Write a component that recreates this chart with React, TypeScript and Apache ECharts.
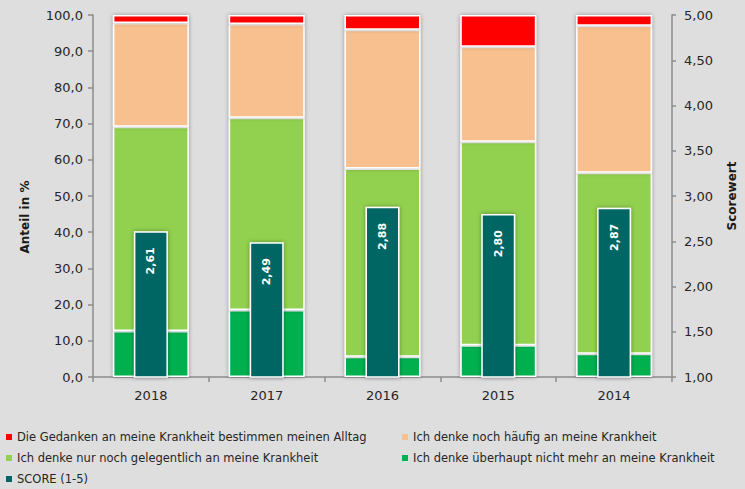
import React, { useEffect, useRef } from "react";
import * as echarts from "echarts";

const categories = ["2018", "2017", "2016", "2015", "2014"];
const alltag = [2.2, 2.5, 4.1, 8.8, 3.0];
const haeufig = [28.7, 25.9, 38.3, 26.2, 40.6];
const gelegentlich = [56.4, 53.1, 52.0, 56.2, 50.0];
const nichtMehr = [12.7, 18.5, 5.6, 8.8, 6.4];
const score = [2.61, 2.49, 2.88, 2.8, 2.87];

const names = {
  alltag: "Die Gedanken an meine Krankheit bestimmen meinen Alltag",
  haeufig: "Ich denke noch häufig an meine Krankheit",
  gelegentlich: "Ich denke nur noch gelegentlich an meine Krankheit",
  nichtMehr: "Ich denke überhaupt nicht mehr an meine Krankheit",
  score: "SCORE (1-5)",
};

const FONT = "'DejaVu Sans', 'Noto Sans', sans-serif";
const TEXT = "#262626";
const GRID = "#8c8c8c";

export default function App() {
  const ref = useRef<HTMLDivElement>(null);
  useEffect(() => {
    if (!ref.current) return;
    const chart = echarts.init(ref.current, null, { renderer: "svg" });
    const barStyle = (color: string) => ({
      color,
      borderColor: "#ffffff",
      borderWidth: 1.5,
      shadowBlur: 4,
      shadowColor: "rgba(0,0,0,0.35)",
    });
    const stacked = (name: string, data: number[], color: string) => ({
      name,
      type: "bar",
      stack: "anteil",
      xAxisIndex: 0,
      yAxisIndex: 0,
      barWidth: 76,
      data,
      itemStyle: barStyle(color),
    });
    const legendBase = {
      orient: "vertical",
      top: 426,
      height: 70,
      itemWidth: 6,
      itemHeight: 6,
      itemGap: 9,
      icon: "rect",
      itemStyle: { borderWidth: 0, shadowBlur: 0 },
      textStyle: { fontFamily: FONT, fontSize: 11.5, color: TEXT, lineHeight: 12 },
    };
    chart.setOption({
      animation: false,
      backgroundColor: "#dedede",
      textStyle: { fontFamily: FONT },
      grid: { left: 93, right: 73, top: 15, bottom: 112, containLabel: false },
      legend: [
        { ...legendBase, left: 1, data: [names.alltag, names.gelegentlich, names.score] },
        { ...legendBase, left: 397, data: [names.haeufig, names.nichtMehr] },
      ],
      xAxis: [
        {
          type: "category",
          data: categories,
          axisLine: { lineStyle: { color: GRID, width: 1.5 } },
          axisTick: { show: true, length: 5, lineStyle: { color: GRID, width: 1.5 } },
          axisLabel: { color: TEXT, fontSize: 13, margin: 12, fontFamily: FONT },
        },
        { type: "category", data: categories, show: false },
      ],
      yAxis: [
        {
          type: "value",
          min: 0,
          max: 100,
          interval: 10,
          axisLine: { show: true, lineStyle: { color: GRID, width: 1.5 } },
          axisTick: { show: true, length: 5, lineStyle: { color: GRID, width: 1.5 } },
          axisLabel: {
            color: TEXT,
            fontSize: 13,
            margin: 10,
            fontFamily: FONT,
            formatter: (v: number) => v.toFixed(1).replace(".", ","),
          },
          splitLine: {
            show: true,
            lineStyle: {
              color: "#858585",
              width: 2,
              shadowBlur: 2,
              shadowColor: "rgba(0,0,0,0.25)",
              shadowOffsetY: 1,
            },
          },
        },
        {
          type: "value",
          min: 1,
          max: 5,
          interval: 0.5,
          position: "right",
          axisLine: { show: true, lineStyle: { color: GRID, width: 1.5 } },
          axisTick: { show: true, length: 4, lineStyle: { color: GRID, width: 1.5 } },
          axisLabel: {
            color: TEXT,
            fontSize: 13,
            margin: 12,
            fontFamily: FONT,
            formatter: (v: number) => v.toFixed(2).replace(".", ","),
          },
          splitLine: { show: false },
        },
      ],
      graphic: [
        {
          type: "text",
          x: 25,
          y: 217,
          rotation: Math.PI / 2,
          style: {
            text: "Anteil in %",
            font: "bold 12px 'DejaVu Sans', sans-serif",
            fill: "#1a1a1a",
            align: "center",
            verticalAlign: "middle",
          },
        },
        {
          type: "text",
          x: 732,
          y: 196,
          rotation: Math.PI / 2,
          style: {
            text: "Scorewert",
            font: "bold 12px 'DejaVu Sans', sans-serif",
            fill: "#1a1a1a",
            align: "center",
            verticalAlign: "middle",
          },
        },
      ],
      series: [
        stacked(names.nichtMehr, nichtMehr, "#00b050"),
        stacked(names.gelegentlich, gelegentlich, "#92d050"),
        stacked(names.haeufig, haeufig, "#f9c08f"),
        stacked(names.alltag, alltag, "#ff0000"),
        {
          name: names.score,
          type: "bar",
          xAxisIndex: 1,
          yAxisIndex: 1,
          barWidth: 34,
          data: score,
          itemStyle: barStyle("#016664"),
          label: {
            show: true,
            position: "insideTop",
            distance: 16,
            rotate: 90,
            align: "right",
            verticalAlign: "middle",
            color: "#ffffff",
            fontWeight: "bold",
            fontSize: 11,
            fontFamily: FONT,
            formatter: (p: any) => Number(p.value).toFixed(2).replace(".", ","),
          },
        },
      ],
    });
    return () => chart.dispose();
  }, []);
  return <div ref={ref} style={{ width: 745, height: 489, position: "fixed", left: 0, top: 0 }} />;
}
